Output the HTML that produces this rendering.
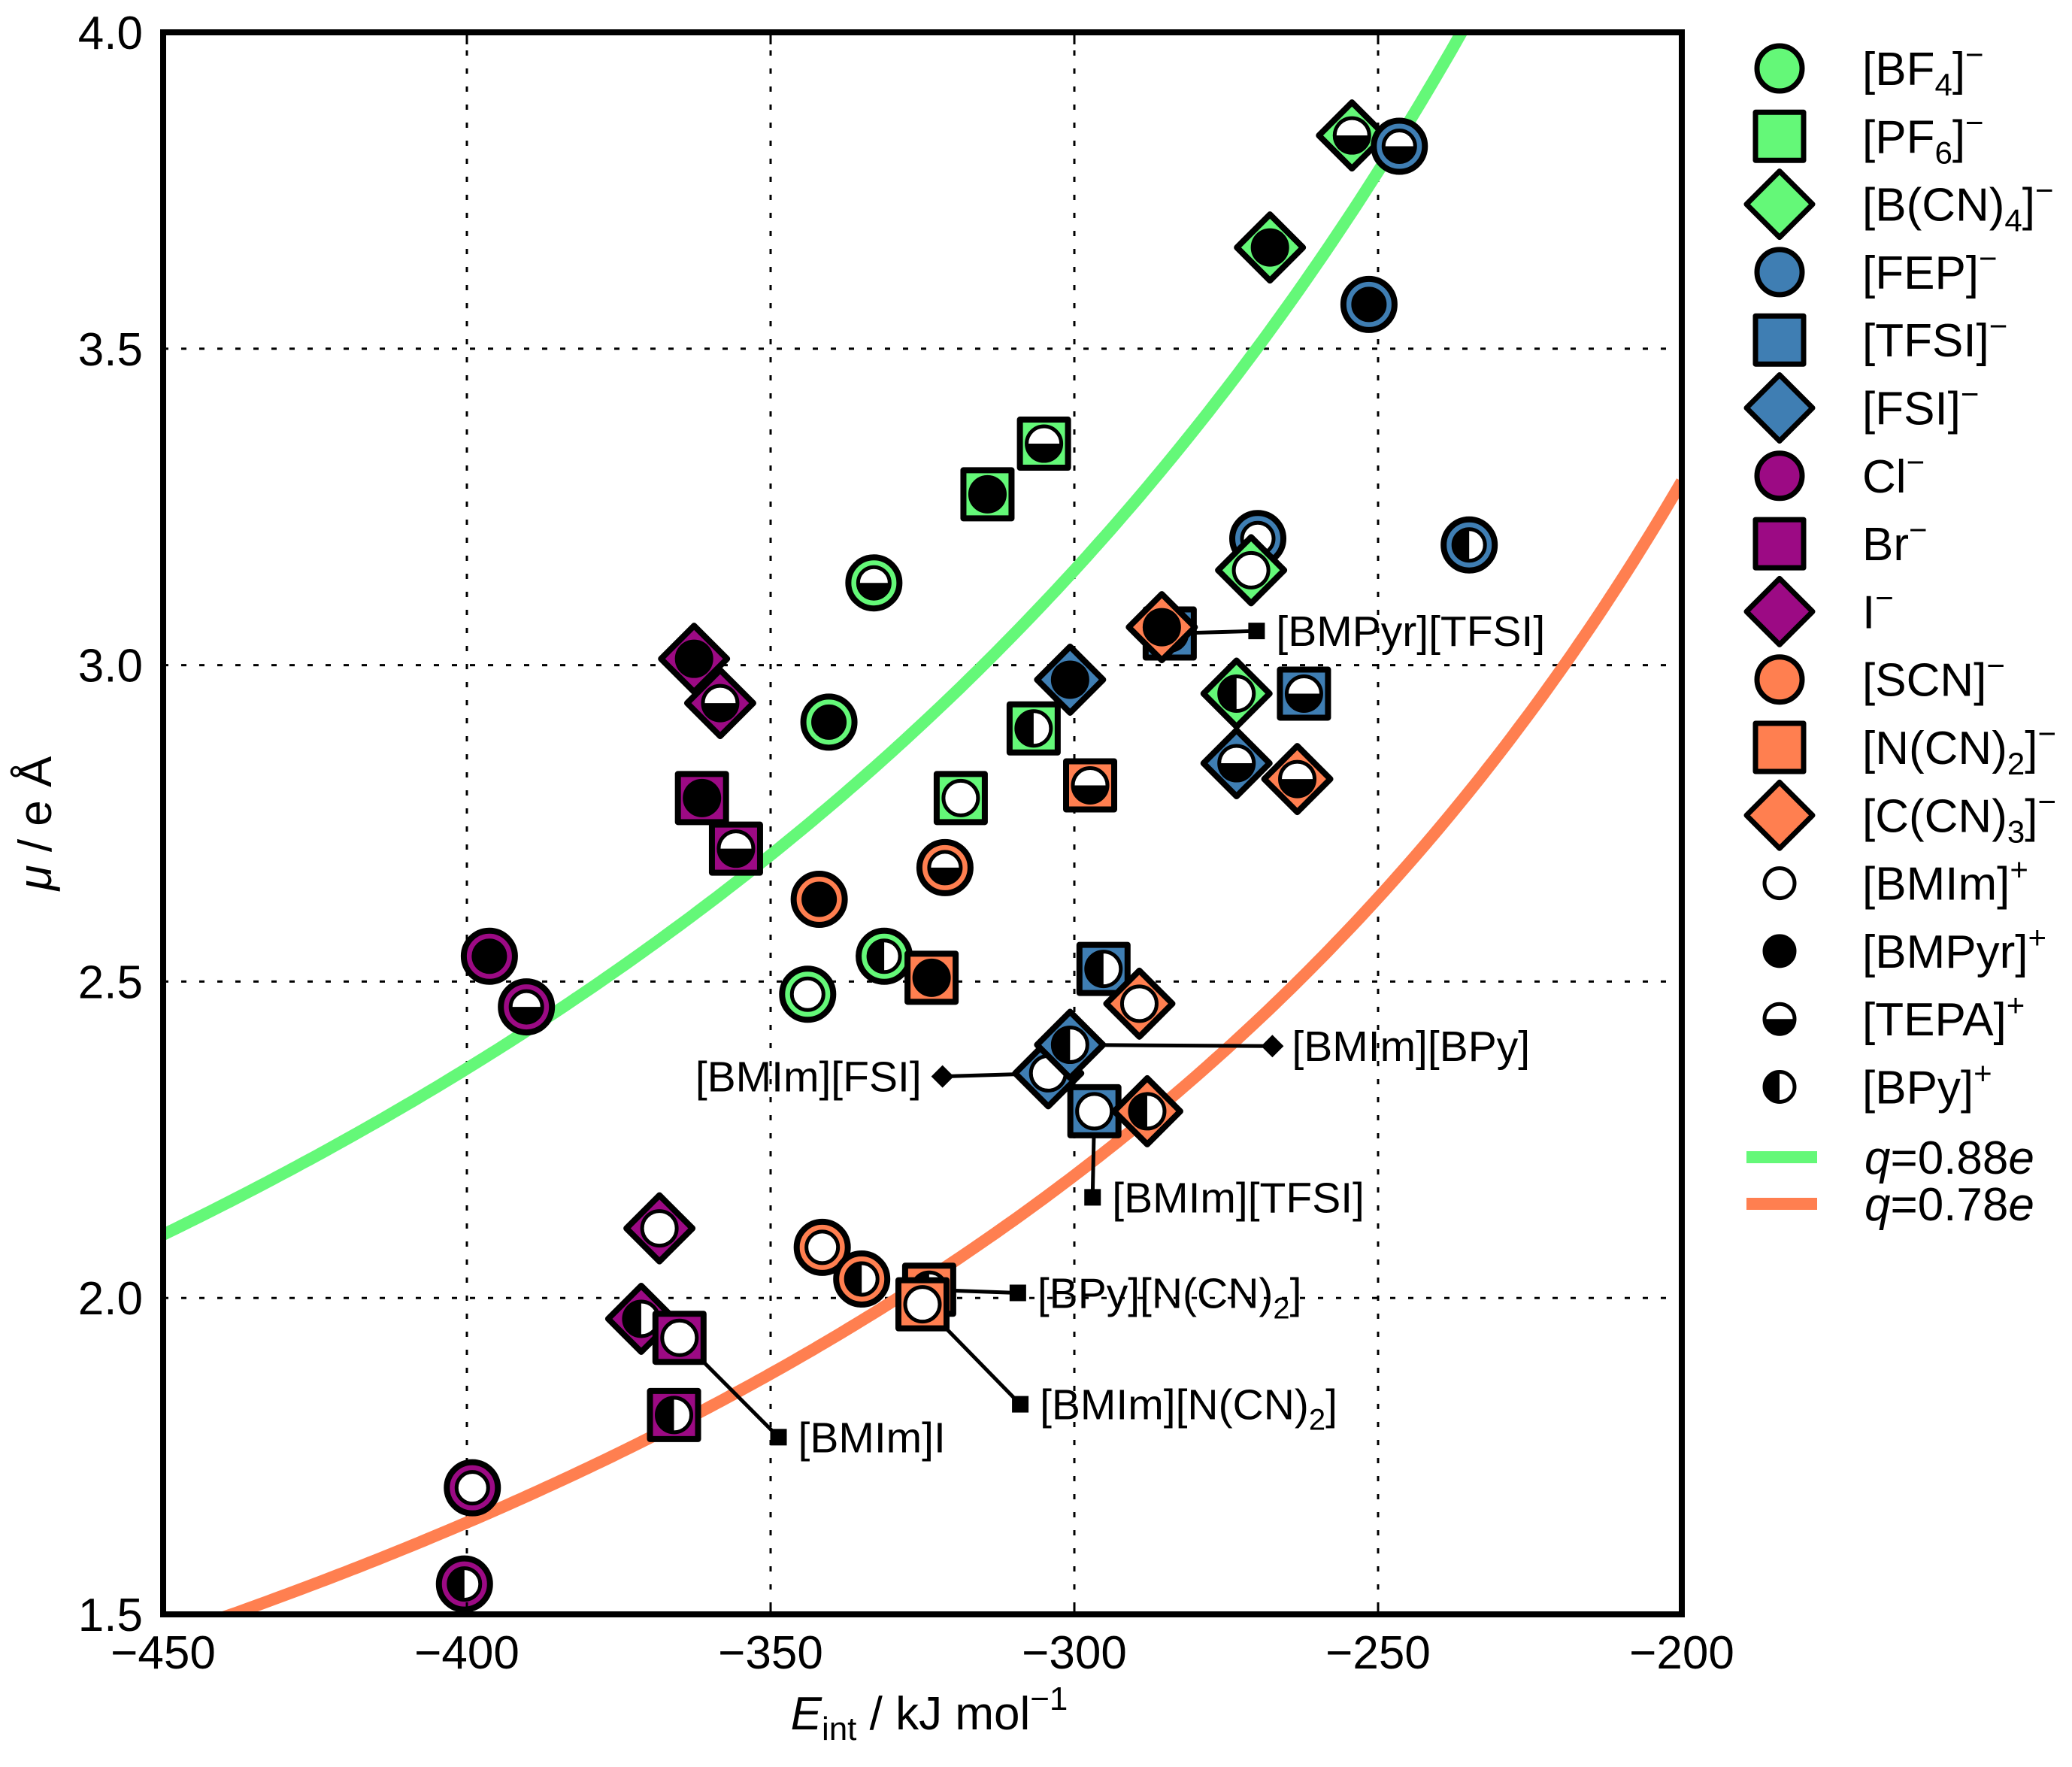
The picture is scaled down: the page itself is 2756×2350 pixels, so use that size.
<!DOCTYPE html>
<html><head><meta charset="utf-8"><style>
html,body{margin:0;padding:0;background:#fff;}
svg{display:block;font-family:"Liberation Sans",Arial,sans-serif;}
</style></head>
<body>
<svg id="chart" width="2756" height="2350" viewBox="0 0 2756 2350" xmlns="http://www.w3.org/2000/svg">
<rect x="0" y="0" width="2756" height="2350" fill="#fff"/>
<g id="grid"></g>
<g id="curves"></g>
<g id="annot"></g>
<g id="marks"></g>
<rect x="217" y="43" width="2020" height="2104" fill="none" stroke="#000" stroke-width="8"/>
<g id="ticks" font-size="62"></g>
<text transform="translate(68,1095) rotate(-90)" text-anchor="middle" font-size="62"><tspan font-style="italic">μ</tspan> / e Å</text>
<text x="1236" y="2300" text-anchor="middle" font-size="62"><tspan font-style="italic">E</tspan><tspan font-size="44" dy="14">int</tspan><tspan dy="-14"> / kJ mol</tspan><tspan font-size="44" dy="-26">−1</tspan></text>
<g id="legend" font-size="62"></g>
</svg>
<script>
// ---- data ----
const xTicks = [-450, -400, -350, -300, -250, -200];
const yTicks = [1.5, 2.0, 2.5, 3.0, 3.5, 4.0];
const anions = ["BF4","PF6","BCN4","FEP","TFSI","FSI","Cl","Br","I","SCN","NCN2","CCN3"];
const pointAnion = ["BCN4","FEP","BCN4","FEP","PF6","PF6","BF4","FEP","BCN4","FEP","TFSI","CCN3","BF4","BCN4","TFSI","FSI","PF6","CCN3","FSI","NCN2","PF6","I","I","Br","Br","SCN","SCN","BF4","BF4","NCN2","Cl","Cl","TFSI","CCN3","FSI","FSI","TFSI","CCN3","I","SCN","SCN","NCN2","NCN2","I","Br","Br","Cl","Cl"];
const pointCation = ["TEPA","TEPA","BMPyr","BMPyr","TEPA","BMPyr","TEPA","BMIm","BMIm","BPy","BMPyr","BMPyr","BMPyr","BPy","TEPA","BMPyr","BPy","TEPA","TEPA","TEPA","BMIm","BMPyr","TEPA","BMPyr","TEPA","BMPyr","TEPA","BPy","BMIm","BMPyr","BMPyr","TEPA","BPy","BMIm","BMIm","BPy","BMIm","BPy","BMIm","BMIm","BPy","BPy","BMIm","BPy","BMIm","BPy","BMIm","BPy"];
const pointE = [-254.3,-246.5,-267.8,-251.5,-305,-314.3,-333,-269.8,-270.9,-235,-284.3,-285.6,-340.4,-273.3,-262.2,-300.7,-306.7,-263.3,-273.3,-297.4,-318.7,-362.6,-358.3,-361.3,-355.7,-342,-321.3,-331.3,-343.9,-323.5,-396.3,-390.2,-295.2,-289.3,-304.3,-300.7,-296.7,-288,-368.3,-341.5,-335,-323.9,-325,-371.3,-365,-365.9,-399.1,-400.4];
const pointMu = [3.837,3.82,3.66,3.57,3.35,3.27,3.13,3.20,3.15,3.19,3.05,3.06,2.91,2.955,2.955,2.977,2.90,2.82,2.845,2.81,2.79,3.01,2.94,2.79,2.71,2.63,2.68,2.54,2.48,2.506,2.54,2.46,2.52,2.465,2.355,2.40,2.295,2.295,2.11,2.08,2.03,2.013,1.99,1.967,1.937,1.815,1.70,1.548];
const curveCharges = [0.88, 0.78];
const curveK = 1386.7;
const annLabels = ["[BMPyr][TFSI]","[BMIm][BPy]","[BMIm][FSI]","[BMIm][TFSI]","[BPy][N(CN)2]","[BMIm][N(CN)2]","[BMIm]I"];
const annFromE = [-284.3,-300.7,-304.3,-296.7,-323.9,-325,-365];
const annFromMu = [3.05,2.40,2.355,2.295,2.013,1.99,1.937];
const annToE = [-270,-267.4,-321.7,-297,-309.3,-308.9,-348.7];
const annToMu = [3.054,2.398,2.35,2.159,2.008,1.832,1.78];
const annShape = ["square","diamond","diamond","square","square","square","square"];
const annSide = ["right","right","left","right","right","right","right"];

// ---- scales / style ----
const X0=217,X1=2237,Y0=2147,Y1=43;
const xs = v => X0 + (v+450)/250*(X1-X0);
const ys = v => Y0 - (v-1.5)/2.5*(Y0-Y1);
const NS="http://www.w3.org/2000/svg";
const colorOf = {BF4:"#64F878",PF6:"#64F878",BCN4:"#64F878",FEP:"#3F7EB3",TFSI:"#3F7EB3",FSI:"#3F7EB3",Cl:"#9C0A84",Br:"#9C0A84",I:"#9C0A84",SCN:"#FF7F50",NCN2:"#FF7F50",CCN3:"#FF7F50"};
const shapeOf = {BF4:"circle",PF6:"square",BCN4:"diamond",FEP:"circle",TFSI:"square",FSI:"diamond",Cl:"circle",Br:"square",I:"diamond",SCN:"circle",NCN2:"square",CCN3:"diamond"};
const curveColors=["#64F878","#FF7F50"];
function mk(tag,attrs,parent){const e=document.createElementNS(NS,tag);for(const k in attrs)e.setAttribute(k,attrs[k]);parent.appendChild(e);return e;}

// grid
const grid=document.getElementById('grid');
xTicks.slice(1,-1).forEach(v=>{const l=mk('line',{x1:xs(v),x2:xs(v),y1:Y1,y2:Y0,stroke:'#000','stroke-width':3,'stroke-dasharray':'7 17'},grid);

});
yTicks.slice(1,-1).forEach(v=>{const l=mk('line',{x1:X0,x2:X1,y1:ys(v),y2:ys(v),stroke:'#000','stroke-width':3,'stroke-dasharray':'7 17'},grid);

});

// ticks
const ticks=document.getElementById('ticks');
xTicks.forEach(v=>{const t=mk('text',{x:xs(v),y:2219,'text-anchor':'middle'},ticks);t.textContent=(v<0?'−':'')+Math.abs(v);


[[Y0,Y0-16],[Y1,Y1+16]].forEach(p=>{const m=mk('line',{x1:xs(v),x2:xs(v),y1:p[0],y2:p[1],stroke:'#000','stroke-width':3},ticks);

});});
yTicks.forEach(v=>{const t=mk('text',{x:190,y:ys(v)+22,'text-anchor':'end'},ticks);t.textContent=v.toFixed(1);

});

// curves
const curves=document.getElementById('curves');
const clip=mk('clipPath',{id:'pc'},curves);mk('rect',{x:X0,y:Y1,width:X1-X0,height:Y0-Y1},clip);
curveCharges.forEach((q,i)=>{let d='';for(let e=-450;e<=-200;e+=1){const mu=curveK*q*q*q/(-e);d+=(d?'L':'M')+xs(e).toFixed(1)+','+ys(mu).toFixed(1);}
const p=mk('path',{d:d,fill:'none',stroke:curveColors[i],'stroke-width':16,'clip-path':'url(#pc)'},curves);

});

// marker helpers
function anionShape(g,shape,cx,cy,fill,sw,big){
  if(shape==='circle'){const r=big?34:30;return mk('ellipse',{cx:cx,cy:cy,rx:r,ry:r,fill:fill,stroke:'#000','stroke-width':sw},g);}
  if(shape==='square') return mk('rect',{x:cx-32,y:cy-32,width:64,height:64,fill:fill,stroke:'#000','stroke-width':sw,'stroke-linejoin':'round'},g);
  return mk('polygon',{points:`${cx},${cy-44} ${cx+44},${cy} ${cx},${cy+44} ${cx-44},${cy}`,fill:fill,stroke:'#000','stroke-width':sw,'stroke-linejoin':'round'},g);
}
function cationShape(g,cat,cx,cy,r){
  mk('circle',{cx:cx,cy:cy,r:r,fill:cat==='BMPyr'?'#000':'#fff'},g);
  if(cat==='TEPA') mk('path',{d:`M${cx-r},${cy} A${r},${r} 0 0 0 ${cx+r},${cy} Z`,fill:'#000'},g);
  if(cat==='BPy') mk('path',{d:`M${cx},${cy-r} A${r},${r} 0 0 0 ${cx},${cy+r} Z`,fill:'#000'},g);
  mk('circle',{cx:cx,cy:cy,r:r,fill:'none',stroke:'#000','stroke-width':5},g);
}

// annotations
const annot=document.getElementById('annot');
annLabels.forEach((lab,i)=>{const g=mk('g',{},annot);


const x1=xs(annFromE[i]),y1=ys(annFromMu[i]),x2=xs(annToE[i]),y2=ys(annToMu[i]);
mk('line',{x1:x1,y1:y1,x2:x2,y2:y2,stroke:'#000','stroke-width':5},g);
if(annShape[i]==='square') mk('rect',{x:x2-11,y:y2-11,width:22,height:22,fill:'#000'},g);
else mk('polygon',{points:`${x2},${y2-15} ${x2+15},${y2} ${x2},${y2+15} ${x2-15},${y2}`,fill:'#000'},g);
const t=mk('text',{x:annSide[i]==='right'?x2+26:x2-28,y:y2+20,'text-anchor':annSide[i]==='right'?'start':'end','font-size':57},g);
const m=lab.match(/^(.*)\(CN\)2\]$/);
if(m){t.textContent=m[1]+'(CN)';const s=mk('tspan',{'font-size':40,dy:14},t);s.textContent='2';const s2=mk('tspan',{dy:-14},t);s2.textContent=']';}
else t.textContent=lab;});

// points
const marks=document.getElementById('marks');
pointE.forEach((e,i)=>{const g=mk('g',{},marks);


const cx=xs(e),cy=ys(pointMu[i]);
const sh=shapeOf[pointAnion[i]];
anionShape(g,sh,cx,cy,colorOf[pointAnion[i]],8,true);
cationShape(g,pointCation[i],cx,cy,sh==='circle'?21:23);});

// legend
const leg=document.getElementById('legend');
const legLabels=[["[BF","4","]","−"],["[PF","6","]","−"],["[B(CN)","4","]","−"],["[FEP]","","","−"],["[TFSI]","","","−"],["[FSI]","","","−"],["Cl","","","−"],["Br","","","−"],["I","","","−"],["[SCN]","","","−"],["[N(CN)","2","]","−"],["[C(CN)","3","]","−"]];
const legCations=["BMIm","BMPyr","TEPA","BPy"];
anions.forEach((a,i)=>{const g=mk('g',{},leg);


const cy=91+90.3*i;
anionShape(g,shapeOf[a],2367,cy,colorOf[a],7,false);
const L=legLabels[i];const t=mk('text',{x:2477,y:cy+22},g);t.textContent=L[0];
if(L[1]){const s=mk('tspan',{'font-size':42,dy:14},t);s.textContent=L[1];const s2=mk('tspan',{dy:-14},t);s2.textContent=L[2];}
const sp=mk('tspan',{'font-size':42,dy:-26},t);sp.textContent=L[3];});
legCations.forEach((c,j)=>{const g=mk('g',{},leg);


const cy=91+90.3*(12+j);cationShape(g,c,2367,cy,20);
const t=mk('text',{x:2477,y:cy+22},g);t.textContent='['+c+']';const sp=mk('tspan',{'font-size':42,dy:-26},t);sp.textContent='+';});
curveCharges.forEach((q,i)=>{const g=mk('g',{},leg);


const cy=[1539,1601][i];mk('line',{x1:2323,x2:2417,y1:cy,y2:cy,stroke:curveColors[i],'stroke-width':16},g);
const t=mk('text',{x:2480,y:cy+22},g);const a=mk('tspan',{'font-style':'italic'},t);a.textContent='q';const b=mk('tspan',{},t);b.textContent='='+q.toFixed(2);const c=mk('tspan',{'font-style':'italic'},t);c.textContent='e';});
</script>
</body></html>
